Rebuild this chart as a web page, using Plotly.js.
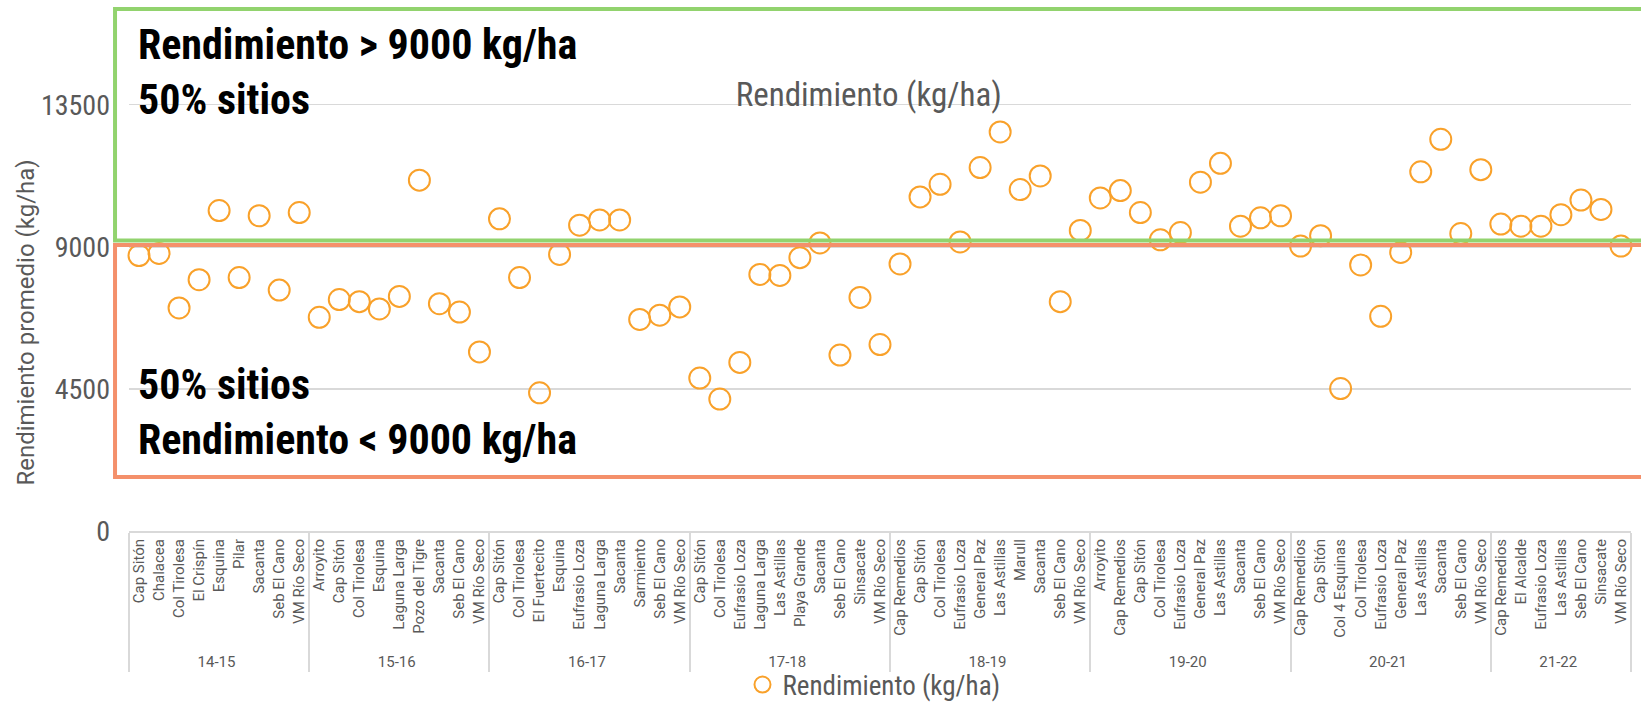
<!DOCTYPE html>
<html>
<head>
<meta charset="utf-8">
<script src="https://cdn.plot.ly/plotly-3.0.1.min.js"></script>
<style>html,body{margin:0;padding:0;background:#fff;}#chart{width:1641px;height:702px;}</style>
</head>
<body>
<div id="chart"></div>
<script>
// Seasons (outer category) for each point
const season = [
  "14-15","14-15","14-15","14-15","14-15","14-15","14-15","14-15","14-15",
  "15-16","15-16","15-16","15-16","15-16","15-16","15-16","15-16","15-16",
  "16-17","16-17","16-17","16-17","16-17","16-17","16-17","16-17","16-17","16-17",
  "17-18","17-18","17-18","17-18","17-18","17-18","17-18","17-18","17-18","17-18",
  "18-19","18-19","18-19","18-19","18-19","18-19","18-19","18-19","18-19","18-19",
  "19-20","19-20","19-20","19-20","19-20","19-20","19-20","19-20","19-20","19-20",
  "20-21","20-21","20-21","20-21","20-21","20-21","20-21","20-21","20-21","20-21",
  "21-22","21-22","21-22","21-22","21-22","21-22","21-22"
];
// Sites (inner category)
const site = [
  "Cap Sitón","Chalacea","Col Tirolesa","El Crispín","Esquina","Pilar","Sacanta","Seb El Cano","VM Río Seco",
  "Arroyito","Cap Sitón","Col Tirolesa","Esquina","Laguna Larga","Pozo del Tigre","Sacanta","Seb El Cano","VM Río Seco",
  "Cap Sitón","Col Tirolesa","El Fuertecito","Esquina","Eufrasio Loza","Laguna Larga","Sacanta","Sarmiento","Seb El Cano","VM Río Seco",
  "Cap Sitón","Col Tirolesa","Eufrasio Loza","Laguna Larga","Las Astillas","Playa Grande","Sacanta","Seb El Cano","Sinsacate","VM Río Seco",
  "Cap Remedios","Cap Sitón","Col Tirolesa","Eufrasio Loza","General Paz","Las Astillas","Marull","Sacanta","Seb El Cano","VM Río Seco",
  "Arroyito","Cap Remedios","Cap Sitón","Col Tirolesa","Eufrasio Loza","General Paz","Las Astillas","Sacanta","Seb El Cano","VM Río Seco",
  "Cap Remedios","Cap Sitón","Col 4 Esquinas","Col Tirolesa","Eufrasio Loza","General Paz","Las Astillas","Sacanta","Seb El Cano","VM Río Seco",
  "Cap Remedios","El Alcalde","Eufrasio Loza","Las Astillas","Seb El Cano","Sinsacate","VM Río Seco"
];
// Rendimiento promedio (kg/ha)
const rendimiento = [
  8724, 8790, 7065, 7960, 10150, 8027, 9984, 7629, 10084,
  6767, 7330, 7264, 7032, 7430, 11112, 7198, 6933, 5672,
  9885, 8027, 4378, 8757, 9686, 9851, 9851, 6700, 6833, 7098,
  4843, 4180, 5340, 8127, 8093, 8657, 9122, 5573, 7397, 5904,
  8458, 10581, 10979, 9155, 11510, 12638, 10813, 11245, 7264, 9520,
  10548, 10780, 10084, 9221, 9453, 11046, 11643, 9653, 9918, 9984,
  9022, 9354, 4511, 8425, 6800, 8823, 11377, 12406, 9420, 11444,
  9719, 9653, 9653, 10017, 10482, 10183, 9022
];
const yTicks = [0, 4500, 9000, 13500];
const seriesName = "Rendimiento (kg/ha)";

// Keep the per-season site order: make each inner label unique per season with invisible zero-width spaces
const seasonOrder = [...new Set(season)];
const siteKey = site.map((s, i) => s + '\u200B'.repeat(seasonOrder.indexOf(season[i])));

const COND = '"Roboto Condensed", "Liberation Sans Narrow", "DejaVu Sans Condensed", sans-serif';
const REG = 'Roboto, "Noto Sans", sans-serif';
const GREY = '#595959';

const trace = {
  type: 'scatter',
  mode: 'markers',
  x: [season, siteKey],
  y: rendimiento,
  name: seriesName,
  showlegend: true,
  marker: {symbol: 'circle-open', size: 21, color: '#F9A12A', line: {width: 2, color: '#F9A12A'}},
  cliponaxis: false
};

const layout = {
  width: 1641, height: 702,
  margin: {l: 129, r: 10, t: 10, b: 171},
  paper_bgcolor: '#ffffff', plot_bgcolor: '#ffffff',
  font: {family: COND, color: GREY},
  title: {text: seriesName, font: {family: COND, size: 33, color: GREY},
          xref: 'paper', x: 0.4925, xanchor: 'center', yref: 'container', y: 1 - 94/702, yanchor: 'middle'},
  xaxis: {
    type: 'multicategory',
    range: [-0.5, site.length - 0.5],
    autorange: false,
    tickangle: -90,
    tickfont: {family: REG, size: 15, color: GREY},
    showline: true, linecolor: '#d9d9d9', linewidth: 2,
    showgrid: false, ticks: '',
    showdividers: true, dividercolor: '#d9d9d9', dividerwidth: 2
  },
  yaxis: {
    range: [0, 16500],
    autorange: false,
    tickvals: yTicks,
    ticktext: yTicks.map(String),
    tickfont: {family: COND, size: 28, color: GREY},
    showgrid: true, gridcolor: '#d9d9d9', gridwidth: 1.5,
    zeroline: false, showline: false, ticks: '',
    ticklabelstandoff: 18
  },
  legend: {orientation: 'h', xref: 'paper', x: 0.496, xanchor: 'center', yref: 'container', y: 1 - 685/702, yanchor: 'middle',
           bgcolor: 'rgba(0,0,0,0)', font: {family: COND, size: 27, color: GREY}, itemwidth: 30},
  shapes: [
    {type: 'rect', xref: 'paper', yref: 'paper', x0: -0.0093, x1: 1.02, y0: 0.5574, y1: 1.002,
     line: {color: '#92D36E', width: 4}, fillcolor: 'rgba(0,0,0,0)', layer: 'above'},
    {type: 'rect', xref: 'paper', yref: 'paper', x0: -0.0093, x1: 1.02, y0: 0.1036, y1: 0.549,
     line: {color: '#F4906B', width: 4}, fillcolor: 'rgba(0,0,0,0)', layer: 'above'}
  ],
  annotations: [
    {xref: 'paper', yref: 'paper', x: 0.0047, y: 0.881, xanchor: 'left', yanchor: 'middle', align: 'left', showarrow: false,
     text: '<b>Rendimiento &gt; 9000 kg/ha<br>50% sitios</b>', font: {family: COND, size: 42, color: '#000000'}},
    {xref: 'paper', yref: 'paper', x: 0.0047, y: 0.2284, xanchor: 'left', yanchor: 'middle', align: 'left', showarrow: false,
     text: '<b>50% sitios<br>Rendimiento &lt; 9000 kg/ha</b>', font: {family: COND, size: 42, color: '#000000'}},
    {xref: 'paper', yref: 'paper', x: -0.0686, y: 0.40, xanchor: 'center', yanchor: 'middle', textangle: -90, showarrow: false,
     text: 'Rendimiento promedio (kg/ha)', font: {family: REG, size: 24, color: GREY}}
  ]
};

Plotly.newPlot('chart', [trace], layout, {displayModeBar: false, staticPlot: true});
</script>
</body>
</html>
